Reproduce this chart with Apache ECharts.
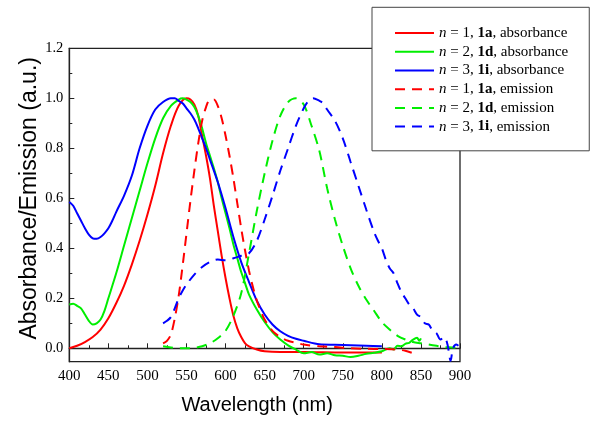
<!DOCTYPE html>
<html>
<head>
<meta charset="utf-8">
<script src="https://cdn.jsdelivr.net/npm/echarts@6/dist/echarts.min.js"></script>
<style>
html,body{margin:0;padding:0;background:#fff;}
#chart{width:601px;height:423px;}
</style>
</head>
<body>
<div id="chart"></div>
<script>
// ---- data ----
var legendLabels = [
  'n = 1, 1a, absorbance',
  'n = 2, 1d, absorbance',
  'n = 3, 1i, absorbance',
  'n = 1, 1a, emission',
  'n = 2, 1d, emission',
  'n = 3, 1i, emission'
];
var legendRich = [
  '{i|n} = 1, {b|1a}, absorbance',
  '{i|n} = 2, {b|1d}, absorbance',
  '{i|n} = 3, {b|1i}, absorbance',
  '{i|n} = 1, {b|1a}, emission',
  '{i|n} = 2, {b|1d}, emission',
  '{i|n} = 3, {b|1i}, emission'
];
var xTicks = [400, 450, 500, 550, 600, 650, 700, 750, 800, 850, 900];
var yTicks = [0.0, 0.2, 0.4, 0.6, 0.8, 1.0, 1.2];

var absRedX = [400,410,420,430,440,450,460,470,480,490,500,510,520,530,540,550,555,560,565,570,575,580,585,590,595,600,605,610,615,620,625,630,640,650,670,700,750,800];
var absRedY = [0.0,0.01,0.025,0.045,0.075,0.12,0.18,0.25,0.335,0.43,0.535,0.65,0.78,0.89,0.97,1.0,0.995,0.975,0.93,0.85,0.77,0.68,0.57,0.47,0.37,0.28,0.2,0.13,0.08,0.045,0.02,0.008,-0.005,-0.012,-0.015,-0.015,-0.017,-0.017];

var absGreenX = [400,405,410,415,420,425,430,435,440,445,450,460,470,480,490,500,510,520,530,540,545,550,555,560,565,570,575,580,585,590,595,600,605,610,615,620,625,630,640,650,660,670,680,690,700,710,720,730,740,750,760,770,780,790,800,810,815,820,825,830,835,840,845,848,850];
var absGreenY = [0.175,0.178,0.17,0.16,0.135,0.11,0.095,0.1,0.115,0.15,0.2,0.3,0.41,0.52,0.63,0.74,0.84,0.92,0.97,0.995,1.0,0.995,0.985,0.965,0.93,0.88,0.82,0.77,0.72,0.665,0.6,0.54,0.48,0.415,0.36,0.305,0.26,0.215,0.155,0.105,0.065,0.035,0.012,-0.005,-0.02,-0.015,-0.025,-0.02,-0.028,-0.03,-0.035,-0.03,-0.022,-0.018,-0.012,0.0,-0.005,0.01,0.008,0.018,0.022,0.035,0.042,0.03,0.04];

var absBlueX = [400,405,410,415,420,425,430,435,440,445,450,455,460,470,480,490,500,510,520,530,535,540,545,550,555,560,565,570,575,580,590,600,610,620,630,640,650,660,670,680,690,700,720,740,760,780,800];
var absBlueY = [0.585,0.57,0.54,0.51,0.48,0.455,0.44,0.438,0.445,0.46,0.48,0.51,0.545,0.61,0.69,0.8,0.89,0.955,0.985,1.0,1.0,0.99,0.98,0.96,0.94,0.915,0.88,0.84,0.8,0.755,0.665,0.56,0.445,0.345,0.265,0.19,0.135,0.095,0.068,0.05,0.038,0.03,0.016,0.014,0.012,0.01,0.008];

var emRedX = [520,525,530,535,540,545,550,555,560,565,570,575,580,585,590,595,600,605,610,615,620,625,630,635,640,645,650,660,670,680,690,700,720,740,760,780,800,820,830,840];
var emRedY = [0.02,0.03,0.055,0.12,0.21,0.33,0.46,0.59,0.71,0.82,0.91,0.965,0.995,0.995,0.97,0.92,0.85,0.77,0.68,0.58,0.48,0.39,0.31,0.245,0.19,0.15,0.115,0.07,0.045,0.03,0.022,0.015,0.008,0.005,0.0,-0.002,-0.003,-0.005,-0.01,-0.02];

var emGreenX = [520,530,540,550,560,570,580,590,600,610,620,630,640,650,660,670,680,690,700,710,720,730,740,750,760,770,780,790,800,810,820,830,840,850,860,870,880,890,900];
var emGreenY = [0.008,0.003,0.0,0.0,0.002,0.008,0.02,0.04,0.07,0.13,0.22,0.38,0.55,0.7,0.83,0.93,0.985,1.0,0.975,0.89,0.79,0.64,0.515,0.41,0.32,0.25,0.195,0.15,0.105,0.075,0.05,0.035,0.025,0.02,0.015,0.01,0.005,0.003,0.0];

var emBlueX = [520,525,530,535,540,545,550,560,570,580,590,600,610,620,630,640,650,660,670,680,690,700,705,712,720,725,730,740,750,760,770,780,790,795,800,805,810,815,820,825,830,835,840,845,850,855,860,865,870,875,880,884,888,891,895,898];
var emBlueY = [0.1,0.11,0.125,0.16,0.2,0.23,0.255,0.295,0.325,0.345,0.355,0.352,0.36,0.37,0.38,0.43,0.515,0.61,0.71,0.8,0.89,0.96,0.985,1.0,0.99,0.98,0.955,0.91,0.84,0.745,0.65,0.555,0.465,0.43,0.4,0.355,0.32,0.3,0.26,0.225,0.2,0.175,0.16,0.135,0.125,0.1,0.095,0.07,0.06,0.035,0.045,0.015,-0.05,0.0,0.015,0.01];

var seriesColors = ['#ff0000', '#00ee00', '#0000ff', '#ff0000', '#00ee00', '#0000ff'];

// ---- build ----
function pairs(xs, ys) { return xs.map(function (x, i) { return [x, ys[i]]; }); }
var allData = [
  pairs(absRedX, absRedY), pairs(absGreenX, absGreenY), pairs(absBlueX, absBlueY),
  pairs(emRedX, emRedY), pairs(emGreenX, emGreenY), pairs(emBlueX, emBlueY)
];
var richMap = {};
legendLabels.forEach(function (l, i) { richMap[l] = legendRich[i]; });

var series = allData.map(function (d, i) {
  return {
    name: legendLabels[i],
    type: 'line',
    xAxisIndex: 0,
    yAxisIndex: 0,
    data: d,
    symbol: 'none',
    smooth: 0.3,
    silent: true,
    clip: false,
    lineStyle: { color: seriesColors[i], width: 2, type: i < 3 ? 'solid' : [10, 7] },
    itemStyle: { color: seriesColors[i] }
  };
});

var serif = '"Liberation Serif", "Times New Roman", serif';
var sans = '"Liberation Sans", Arial, sans-serif';

var chart = echarts.init(document.getElementById('chart'), null, { renderer: 'canvas' });
chart.setOption({
  animation: false,
  backgroundColor: '#fff',
  grid: [
    { left: 69.3, top: 48.3, width: 390.7, height: 313.4, show: true, borderColor: '#222', borderWidth: 1.3, backgroundColor: 'transparent' },
    { left: 69.3, top: 48.3, width: 390.7, height: 300 }
  ],
  xAxis: [
    {
      gridIndex: 0, type: 'value', min: xTicks[0], max: xTicks[xTicks.length - 1], interval: 50,
      name: 'Wavelength (nm)', nameLocation: 'middle', nameGap: 34,
      nameTextStyle: { fontFamily: sans, fontSize: 20, color: '#000', padding: [0, 15, 0, 0] },
      axisLine: { show: true, lineStyle: { color: '#222', width: 1.3 } },
      axisTick: { show: true, inside: true, length: 5, lineStyle: { color: '#222', width: 1 } },
      minorTick: { show: true, splitNumber: 2, length: 3, lineStyle: { color: '#222', width: 1 } },
      axisLabel: { fontFamily: serif, fontSize: 15, color: '#000', margin: 7 },
      splitLine: { show: false }
    },
    { gridIndex: 1, type: 'value', min: 400, max: 900, show: false }
  ],
  yAxis: [
    {
      gridIndex: 0, type: 'value', min: -0.0536, max: 1.2,
      axisLine: { show: true, lineStyle: { color: '#222', width: 1.3 } },
      axisTick: { show: false }, axisLabel: { show: false }, splitLine: { show: false }
    },
    {
      gridIndex: 1, type: 'value', min: yTicks[0], max: yTicks[yTicks.length - 1], interval: 0.2,
      name: 'Absorbance/Emission (a.u.)', nameLocation: 'middle', nameGap: 28,
      nameMoveOverlap: false,
      nameTextStyle: { fontFamily: sans, fontSize: 23, color: '#000' },
      axisLine: { show: false },
      axisTick: { show: true, inside: true, length: 5, lineStyle: { color: '#222', width: 1 } },
      minorTick: { show: true, splitNumber: 2, length: 3, lineStyle: { color: '#222', width: 1 } },
      axisLabel: { fontFamily: serif, fontSize: 14.5, color: '#000', margin: 6,
        formatter: function (v) { return v.toFixed(1); } },
      splitLine: { show: false }
    }
  ],
  legend: {
    orient: 'vertical',
    left: 372, top: 7.3,
    itemWidth: 39, itemHeight: 14, itemGap: 3.7,
    backgroundColor: '#fff', borderColor: '#444', borderWidth: 1,
    padding: [18.3, 21, 16.7, 22],
    selectedMode: false,
    data: legendLabels,
    itemStyle: { opacity: 0, borderWidth: 0 },
    formatter: function (name) { return richMap[name]; },
    textStyle: {
      fontFamily: serif, fontSize: 15, color: '#000',
      rich: {
        i: { fontFamily: serif, fontSize: 15, fontStyle: 'italic', color: '#000' },
        b: { fontFamily: serif, fontSize: 15, fontWeight: 'bold', color: '#000' }
      }
    }
  },
  series: series
});
</script>
</body>
</html>
